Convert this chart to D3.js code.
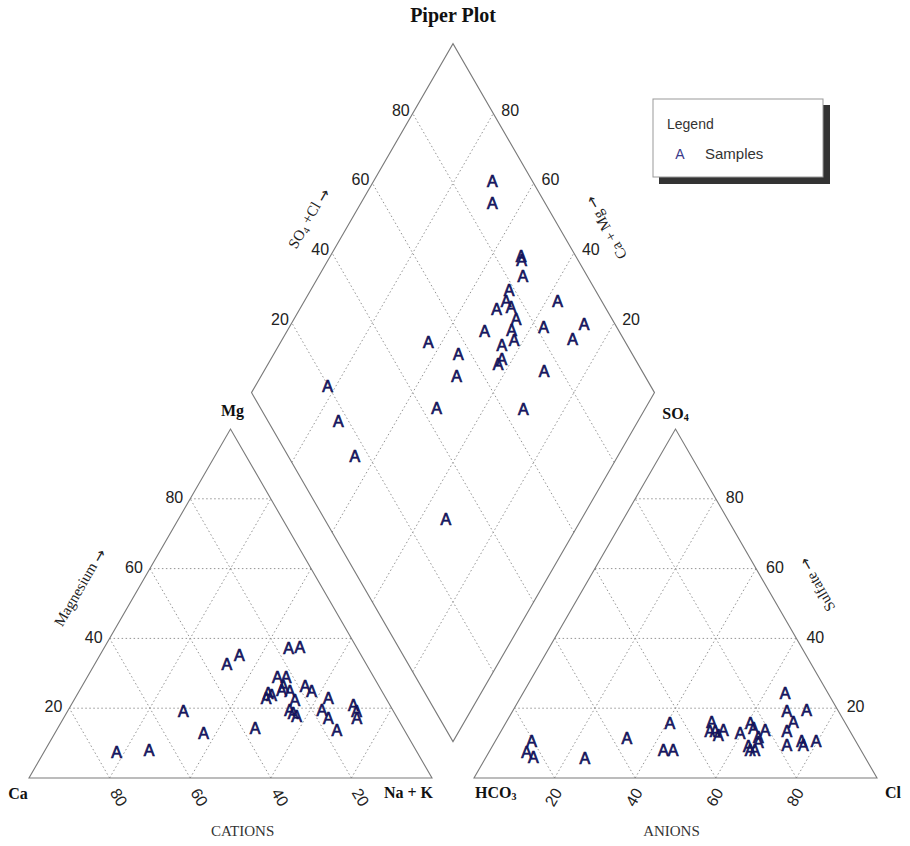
<!DOCTYPE html>
<html>
<head>
<meta charset="utf-8">
<script src="https://cdn.jsdelivr.net/npm/d3@7"></script>
<style>
  html, body { margin: 0; padding: 0; background: #fff; }
  svg { display: block; }
</style>
</head>
<body>
<script>
// ---------------- DATA ----------------
const ticks = [20, 40, 60, 80];

// Cation triangle: % Mg and % (Na+K)  (Ca = 100 - Mg - NaK)
const cationMg  = [7.5, 8.0, 19.0, 12.8, 32.6, 35.2, 14.2, 37.2, 37.6, 28.9, 29.0, 24.3, 22.8, 23.8, 25.2,
                   24.9, 26.2, 22.3, 26.2, 24.9, 19.5, 17.6, 18.5, 22.8, 19.5, 17.1, 13.8, 20.9, 19.0, 17.1];
const cationNaK = [18.0, 25.8, 28.8, 36.9, 32.8, 34.6, 49.0, 45.8, 48.4, 47.2, 49.3, 47.2, 47.4, 48.3, 50.1,
                   52.3, 50.0, 54.8, 55.4, 57.7, 54.9, 57.6, 56.3, 62.9, 62.9, 65.7, 69.5, 70.0, 71.8, 72.8];

// Anion triangle: % SO4 and % Cl  (HCO3 = 100 - SO4 - Cl)
const anionSO4 = [10.6, 7.5, 5.9, 5.6, 11.4, 15.8, 8.0, 8.0, 16.1, 13.3, 13.3, 13.8, 12.3, 12.8, 15.7, 14.3,
                  11.7, 13.8, 9.0, 8.0, 8.0, 10.3, 24.4, 19.0, 19.5, 16.1, 13.3, 9.5, 10.4, 9.5, 10.4];
const anionCl  = [9.0, 9.3, 11.8, 24.7, 32.2, 40.7, 43.0, 45.4, 50.9, 51.9, 53.2, 55.0, 54.5, 59.6, 60.7, 62.2,
                  64.7, 65.3, 63.6, 65.7, 64.5, 65.4, 65.0, 68.1, 72.8, 71.2, 71.0, 72.9, 76.1, 77.0, 79.7];

// Diamond: % (Ca+Mg) and % (SO4+Cl)
const diamondCaMg  = [70.6, 67.4, 52.7, 52.0, 49.4, 50.8, 50.0, 51.2, 47.8, 37.2, 51.0, 44.9, 44.4, 36.9, 27.3,
                      28.0, 44.7, 42.3, 42.7, 42.9, 63.3, 54.2, 51.5, 30.5, 82.1, 51.8, 30.2, 74.4, 65.3, 33.6];
const diamondSO4Cl = [90.1, 86.9, 86.5, 86.0, 84.0, 78.6, 76.3, 72.8, 76.6, 89.1, 66.7, 76.2, 73.5, 81.8, 92.3,
                      87.3, 68.9, 72.6, 66.9, 65.3, 51.1, 56.8, 53.3, 75.7, 19.8, 43.7, 65.1, 17.5, 16.6, 30.1];

const legendTitle = "Legend";
const seriesName = "Samples";

// ---------------- LAYOUT ----------------
const W = 910, H = 846;
const s = 403, x0 = 29, y0 = 778, gap = 42;
const h = s * Math.sqrt(3) / 2;
const xr = x0 + s + gap;                      // anion triangle origin (HCO3)
const Bx = x0 + s + gap / 2, By = y0 - gap * Math.sqrt(3) / 2;   // diamond bottom

const tx = d3.scaleLinear().domain([0, 100]).range([0, s]);
const ty = d3.scaleLinear().domain([0, 100]).range([0, h]);

const cat = (mg, nak) => [x0 + tx(nak) + tx(mg) / 2, y0 - ty(mg)];
const an  = (so4, cl) => [xr + tx(cl) + tx(so4) / 2, y0 - ty(so4)];
const dia = (u, v) => [Bx + (tx(v) - tx(u)) / 2, By - ty(u) - ty(v)];

const svg = d3.select("body").append("svg").attr("width", W).attr("height", H);
svg.append("rect").attr("width", W).attr("height", H).attr("fill", "#fff");

const gridColor = "#949494", edgeColor = "#7a7a7a";
const gGrid = svg.append("g");
const gEdge = svg.append("g");
const line = d3.line();

function gridSeg(a, b) {
  gGrid.append("path").attr("d", line([a, b]))
    .attr("fill", "none").attr("stroke", gridColor)
    .attr("stroke-width", 1).attr("stroke-dasharray", "1.5,2.5");
}
function edge(pts) {
  gEdge.append("path").attr("d", line(pts) + "Z")
    .attr("fill", "none").attr("stroke", edgeColor).attr("stroke-width", 1.1);
}

// grids
ticks.forEach(k => {
  gridSeg(cat(k, 0), cat(k, 100 - k));          // Mg const
  gridSeg(cat(0, k), cat(100 - k, k));          // NaK const
  gridSeg(cat(0, 100 - k), cat(100 - k, 0));    // Ca const
  gridSeg(an(k, 0), an(k, 100 - k));
  gridSeg(an(0, k), an(100 - k, k));
  gridSeg(an(0, 100 - k), an(100 - k, 0));
  gridSeg(dia(k, 0), dia(k, 100));
  gridSeg(dia(0, k), dia(100, k));
});

// edges
edge([cat(0, 0), cat(0, 100), cat(100, 0)]);
edge([an(0, 0), an(0, 100), an(100, 0)]);
edge([dia(0, 0), dia(100, 0), dia(100, 100), dia(0, 100)]);

// ---------------- TEXT ----------------
const sans = "'Liberation Sans', Arial, Helvetica, sans-serif";
const serif = "'Liberation Serif', 'Times New Roman', Times, serif";
const arrowFont = "'DejaVu Sans', sans-serif";
const gText = svg.append("g");

function txt(x, y, str, opts = {}) {
  const t = gText.append("text").attr("x", x).attr("y", y).text(str)
    .attr("font-family", opts.family || sans)
    .attr("font-size", opts.size || 16)
    .attr("font-weight", opts.weight || "normal")
    .attr("fill", opts.fill || "#222")
    .attr("text-anchor", opts.anchor || "middle")
    .attr("dominant-baseline", opts.baseline || "middle");
  if (opts.rotate !== undefined) t.attr("transform", `rotate(${opts.rotate},${x},${y})`);
  return t;
}
function arrow(t) {
  t.append("tspan").text(" ");
  t.append("tspan").text("\u2192").attr("font-family", arrowFont).attr("font-size", 15);
}

// tick labels
ticks.forEach(k => {
  let p;
  p = cat(k, 0);  txt(p[0] - 7, p[1], k, { anchor: "end" });
  p = cat(0, 100 - k); txt(p[0] + 8, y0 + 20, k, { rotate: 60 });
  p = an(k, 100 - k); txt(p[0] + 10, p[1], k, { anchor: "start" });
  p = an(0, k); txt(p[0], y0 + 20, k, { rotate: -60 });
  p = dia(100, k); txt(p[0] - 3, p[1] - 2, k, { anchor: "end" });
  p = dia(k, 100); txt(p[0] + 8, p[1] - 2, k, { anchor: "start" });
});

// title
txt(Bx, 17, "Piper Plot", { family: serif, size: 20, weight: "bold", fill: "#111" });

// vertex labels (bold serif)
const vb = { family: serif, size: 16, weight: "bold", fill: "#111" };
txt(cat(100, 0)[0] + 2, cat(100, 0)[1] - 17, "Mg", vb);
txt(x0 - 11, y0 + 17, "Ca", vb);
txt(x0 + s + 1, y0 + 16, "Na + K", Object.assign({}, vb, { anchor: "end" }));
{
  const p = an(100, 0);
  const t = txt(p[0], p[1] - 14, "SO", vb);
  t.append("tspan").text("4").attr("font-size", 10).attr("dy", 4);
}
{
  const t = txt(xr + 1, y0 + 16, "HCO", Object.assign({}, vb, { anchor: "start" }));
  t.append("tspan").text("3").attr("font-size", 10).attr("dy", 4);
}
txt(xr + s + 16, y0 + 16, "Cl", vb);

// bottom titles
txt(x0 + s * 0.53, 833, "CATIONS", { family: serif, size: 15, fill: "#333" });
txt(xr + s * 0.49, 833, "ANIONS", { family: serif, size: 15, fill: "#333" });

// axis titles along sides
const at = { family: serif, size: 15, fill: "#222" };
arrow(txt(81, 588, "Magnesium", Object.assign({}, at, { rotate: -60 })));
{
  const t = txt(310, 219, "SO", Object.assign({}, at, { rotate: -60 }));
  t.append("tspan").text("4").attr("font-size", 10).attr("dy", 4);
  t.append("tspan").text(" +Cl").attr("dy", -4);
  arrow(t);
}
arrow(txt(607, 227, "Ca + Mg", Object.assign({}, at, { rotate: -120 })));
arrow(txt(818, 584, "Sulfate", Object.assign({}, at, { rotate: -120 })));

// ---------------- MARKERS ----------------
const gMark = svg.append("g");
function markers(points) {
  gMark.selectAll(null).data(points).enter().append("text")
    .attr("x", d => d[0]).attr("y", d => d[1])
    .attr("dy", "0.36em")
    .attr("text-anchor", "middle")
    .attr("font-family", sans).attr("font-size", 16)
    .attr("fill", "#20208c").attr("stroke", "#0e0e44").attr("stroke-width", 0.7)
    .text("A");
}
markers(cationMg.map((m, i) => cat(m, cationNaK[i])));
markers(anionSO4.map((m, i) => an(m, anionCl[i])));
markers(diamondCaMg.map((u, i) => dia(u, diamondSO4Cl[i])));

// ---------------- LEGEND ----------------
const lg = svg.append("g").attr("transform", "translate(653,99)");
lg.append("rect").attr("x", 6).attr("y", 6).attr("width", 171).attr("height", 79).attr("fill", "#333");
lg.append("rect").attr("x", 0).attr("y", 0).attr("width", 170).attr("height", 78)
  .attr("fill", "#fff").attr("stroke", "#999").attr("stroke-width", 1);
lg.append("text").attr("x", 14).attr("y", 30).text(legendTitle)
  .attr("font-family", sans).attr("font-size", 14).attr("fill", "#333");
lg.append("text").attr("x", 27).attr("y", 60).attr("text-anchor", "middle").text("A")
  .attr("font-family", sans).attr("font-size", 14).attr("fill", "#3a3a8a");
lg.append("text").attr("x", 52).attr("y", 60).text(seriesName)
  .attr("font-family", sans).attr("font-size", 15).attr("fill", "#333");
</script>
</body>
</html>
